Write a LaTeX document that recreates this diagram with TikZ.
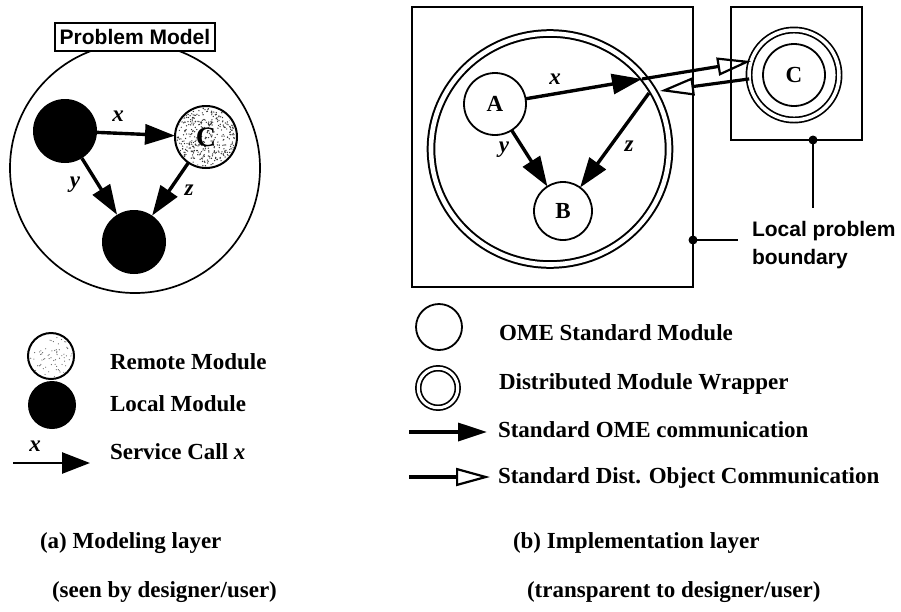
\documentclass[tikz,border=0pt]{standalone}
\usepackage{fontspec}
\setmainfont{Liberation Serif}
\setsansfont{Liberation Sans}
\usetikzlibrary{arrows.meta,shapes.geometric,calc}

\begin{document}
\begin{tikzpicture}[x=1pt,y=-1pt,
  every node/.style={inner sep=0pt, outer sep=0pt},
  txt/.style={font=\bfseries\fontsize{23}{27}\selectfont, anchor=base west},
  var/.style={font=\bfseries\itshape\fontsize{23}{27}\selectfont},
  localmod/.style={circle, fill=black, minimum size=64pt},
  remotemod/.style={circle, draw, line width=2pt, minimum size=62pt},
  stdmod/.style={circle, draw, line width=1.8pt, fill=white,
    font=\bfseries\fontsize{23}{26}\selectfont},
  wrapper/.style={draw, double, double distance=3pt, line width=1.7pt},
  boundary/.style={draw, line width=1.6pt},
  call/.style={line width=3.4pt, -{Triangle[length=30pt,width=20pt]}},
  dcall/.style={line width=3.2pt,
    -{Triangle[open,length=34pt,width=18pt,line width=2.2pt]}},
  pin/.style={line width=1.4pt},
]
\useasboundingbox (0,0) rectangle (901,611);

% ---------- (a) modeling layer ----------
\node[circle, draw, line width=1.7pt, minimum size=250pt] (PM) at (135,168) {};
\node[draw, fill=white, line width=1.4pt, minimum width=160pt, minimum height=28pt,
      font=\sffamily\bfseries\fontsize{21}{24}\selectfont] (PMl) at (135,37) {Problem Model};

\node[localmod] (A) at (65,131) {};
\node[localmod] (B) at (134,242) {};
\node[remotemod] (C) at (206,137) {};
\pgfmathsetseed{11}
\begin{scope}
  \clip (206,137) circle (29.5);
  \foreach \i in {1,...,420}
    \fill[black!80] ($(206,137)+(29*rand,29*rand)$) circle (0.7);
\end{scope}
\node[font=\bfseries\fontsize{28}{30}\selectfont] at (C) {C};

\draw[call] (A) -- (C);
\draw[call] (A) -- (B);
\draw[call] (C) -- (B);
\node[var] at (118,116) {x};
\node[var] at (75,185) {y};
\node[var] at (189,190) {z};

% legend (a)
\node[remotemod, minimum size=46pt] (lr) at (51,356) {};
\begin{scope}
  \clip (51,356) circle (21.5);
  \foreach \i in {1,...,80}
    \fill[black!60] ($(51,356)+(21*rand,21*rand)$) circle (0.6);
\end{scope}
\node[localmod, minimum size=48pt] (ll) at (52,405) {};
\coordinate (sa) at (13,463);
\coordinate (sb) at (90,463);
\draw[line width=2.6pt, -{Triangle[length=28pt,width=21pt]}] (sa) -- (sb);
\node[var] at (35,446) {x};

\node[txt] (t1) at (110,369) {Remote Module};
\node[txt] (t2) at (110,411) {Local Module};
\node[txt] (t3) at (110,459) {Service Call \textit{x}};

\node[txt] (capa) at (40,548) {(a) Modeling layer};
\node[txt] (capa2) at (52,597) {(seen by designer/user)};

% ---------- (b) implementation layer ----------
\node[boundary, minimum width=281pt, minimum height=280pt] (LB) at (552.5,147) {};
\node[boundary, minimum width=131pt, minimum height=133pt] (RB) at (796.5,73.5) {};

\node[ellipse, draw, double, double distance=4.6pt, line width=2pt,
      minimum width=238pt, minimum height=231pt] (W) at (550,149) {};
\node[stdmod, minimum size=62pt] (A2) at (495,104) {A};
\node[stdmod, minimum size=58pt] (B2) at (563,211) {B};
\node[circle, wrapper, double distance=3.5pt, minimum size=90pt] (Cw) at (794,75) {};
\node[stdmod, minimum size=62pt] (C2) at (794,75) {C};

\coordinate (xin) at (642,79);
\coordinate (ret) at (660,91);
\coordinate (zs) at (649,93);
\draw[call] (A2) -- (xin);
\draw[dcall] (xin) -- (Cw.162);
\draw[dcall] (Cw.185) -- (ret);
\draw[call] (zs) -- (B2);
\draw[call] (A2) -- (B2);
\node[var] at (555,79) {x};
\node[var] at (504,150) {y};
\node[var] at (629,146) {z};

% boundary call-outs
\coordinate (d1) at (693,240);
\coordinate (d1e) at (738,240);
\coordinate (d2) at (813,140);
\coordinate (d2e) at (813,208);
\draw[pin] (d1) -- (d1e);
\draw[pin] (d2) -- (d2e);
\fill (d1) circle (4.5);
\fill (d2) circle (4.5);
\node[anchor=north west, align=left,
      font=\sffamily\bfseries\fontsize{21}{28}\selectfont] (lpb) at (752,221)
      {Local problem\\boundary};

% legend (b)
\node[stdmod, minimum size=46pt] (lo) at (439,327) {};
\node[circle, wrapper, minimum size=39.5pt] (lw) at (438,388) {};
\coordinate (fa) at (409,432);
\coordinate (fb) at (487,432);
\coordinate (ha) at (409,477);
\coordinate (hb) at (490,477);
\draw[call, -{Triangle[length=29pt,width=18pt]}] (fa) -- (fb);
\draw[dcall] (ha) -- (hb);

\node[txt] (u1) at (499,340) {OME Standard Module};
\node[txt] (u2) at (499,389) {Distributed Module Wrapper};
\node[txt] (u3) at (498,437) {Standard OME communication};
\node[txt] (u4) at (498,483) {Standard Dist. Object Communication};

\node[txt] (capb) at (513,548) {(b) Implementation layer};
\node[txt] (capb2) at (527,597) {(transparent to designer/user)};
\end{tikzpicture}
\end{document}
